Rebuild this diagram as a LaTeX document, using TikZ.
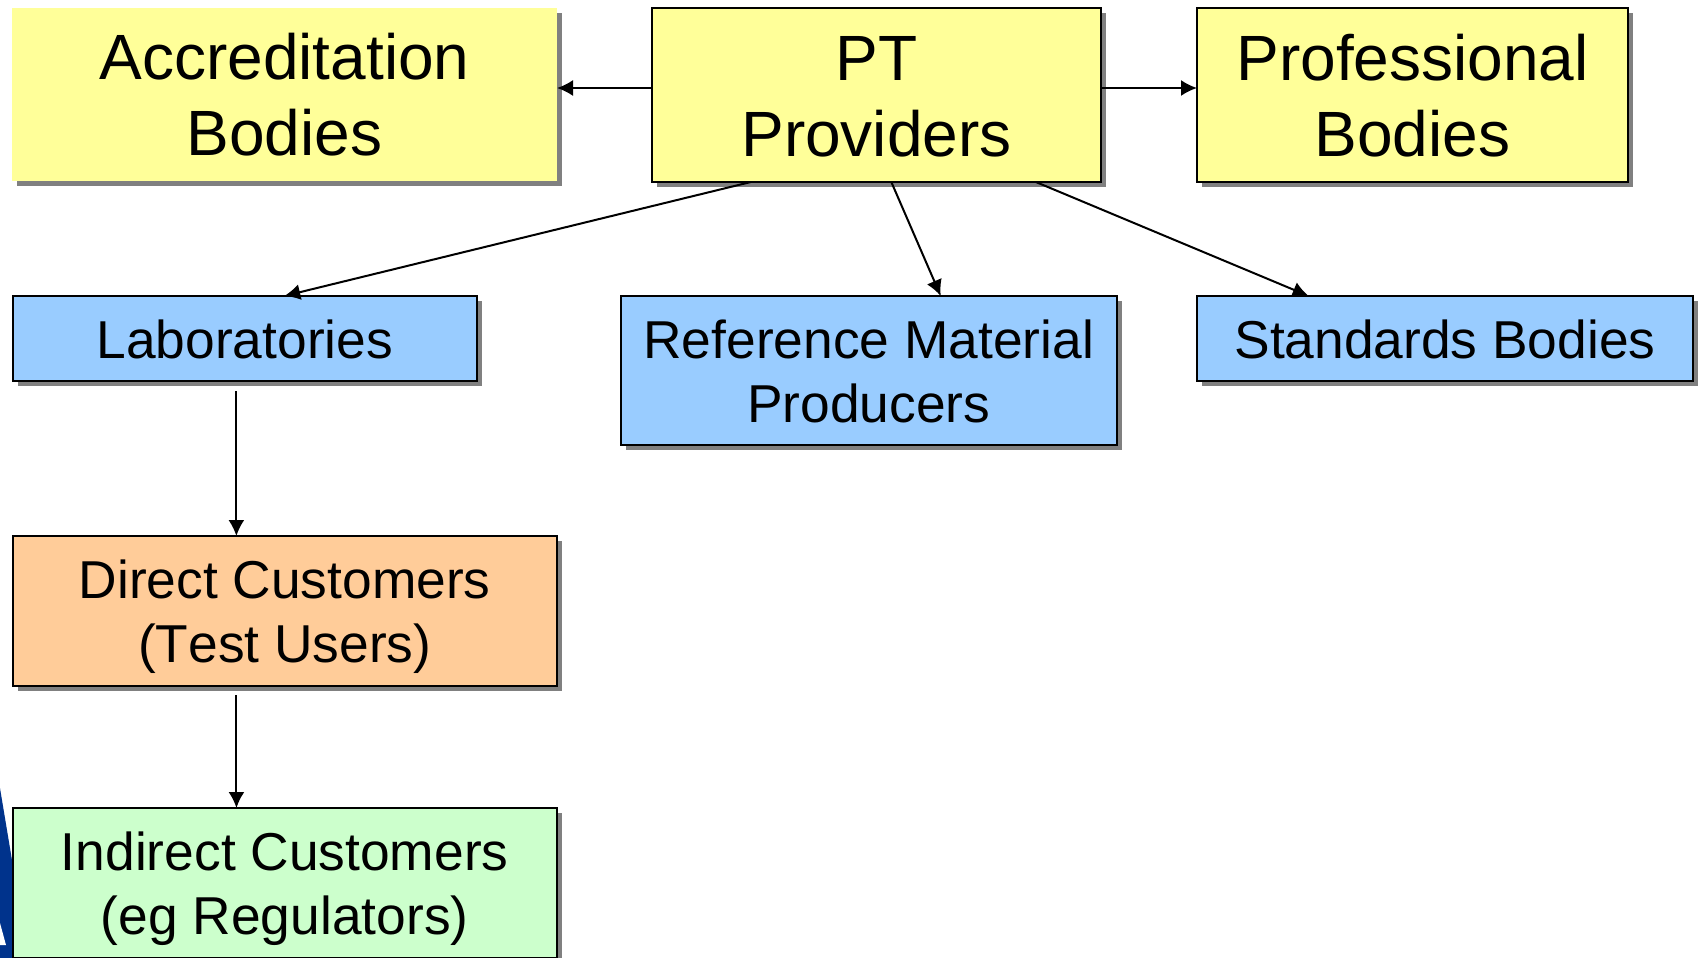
\documentclass[tikz,border=0pt]{standalone}
\usepackage{fontspec}
\setmainfont{Liberation Sans}
\usetikzlibrary{arrows.meta,calc,positioning}
\definecolor{yel}{RGB}{255,255,153}
\definecolor{blu}{RGB}{153,204,255}
\definecolor{ora}{RGB}{255,204,153}
\definecolor{gre}{RGB}{204,255,204}
\definecolor{shad}{RGB}{128,128,128}
\definecolor{navy}{RGB}{0,51,140}
\tikzset{
  x=0.5pt,y=-0.5pt,
  boxbase/.style={rectangle,anchor=north west,inner sep=0pt,outer sep=0pt,align=center,text=black,
    draw=black,line width=1pt},
  big/.style={boxbase,font=\fontsize{32}{38.2}\selectfont,fill=yel},
  small/.style={boxbase,font=\fontsize{26.67}{32}\selectfont},
  conn/.style={draw=black,line width=1pt,-{Latex[length=8pt,width=8pt]}},
}
\newcommand{\pbox}[8]{% name, x0,y0,x1,y1, style, text, top strut height
  \fill[shad] (#2+5,#3+5) rectangle (#4+5,#5+5);
  \node[#6,minimum width=#4*0.5pt-#2*0.5pt,minimum height=#5*0.5pt-#3*0.5pt] (#1) at (#2,#3) {\rule{0pt}{#8}#7};
}
\begin{document}
\begin{tikzpicture}
\useasboundingbox (0,0) rectangle (1698,958);
\fill[white] (0,0) rectangle (1698,958);
% logo fragment
\fill[navy] (0,788) -- (12,860) -- (12,958) -- (0,958) -- cycle;
\fill[white] (0,923) -- (6,945) -- (0,945) -- cycle;
\pbox{acc}{12}{8}{557}{181}{big,draw=none}{Accreditation\\Bodies}{23.5pt}
\pbox{pt}{652}{8}{1101}{182}{big}{PT\\Providers}{24pt}
\pbox{prof}{1197}{8}{1628}{182}{big}{Professional\\Bodies}{24pt}
\pbox{lab}{12.5}{296}{477}{381}{small,fill=blu}{Laboratories}{20.5pt}
\pbox{rm}{620.5}{296}{1117}{445}{small,fill=blu}{Reference Material\\Producers}{20.5pt}
\pbox{std}{1197}{296}{1693}{381}{small,fill=blu}{Standards Bodies}{20.5pt}
\pbox{dir}{12.5}{536}{557}{686}{small,fill=ora}{Direct Customers\\(T\kern0pt est Users)}{25pt}
\pbox{ind}{12.5}{808}{557}{958}{small,fill=gre}{Indirect Customers\\(eg Regulators)}{25pt}
\coordinate (labgap) at ($(lab.south west)!0.482!(lab.south east)+(0,10)$);
\coordinate (dirgap) at ($(dir.south west)!0.4113!(dir.south east)+(0,9)$);
\draw[conn] (pt.west|-0,88) -- (acc.east|-0,88);
\draw[conn] (pt.east|-0,88) -- (prof.west|-0,88);
\draw[conn] ($(pt.south west)!0.22!(pt.south east)$) -- ($(lab.north west)!0.585!(lab.north east)$);
\draw[conn] ($(pt.south west)!0.533!(pt.south east)$) -- ($(rm.north west)!0.645!(rm.north east)$);
\draw[conn] ($(pt.south west)!0.855!(pt.south east)$) -- ($(std.north west)!0.225!(std.north east)$);
\draw[conn] (labgap) -- (labgap|-dir.north);
\draw[conn] (dirgap) -- (dirgap|-ind.north);
\end{tikzpicture}
\end{document}
